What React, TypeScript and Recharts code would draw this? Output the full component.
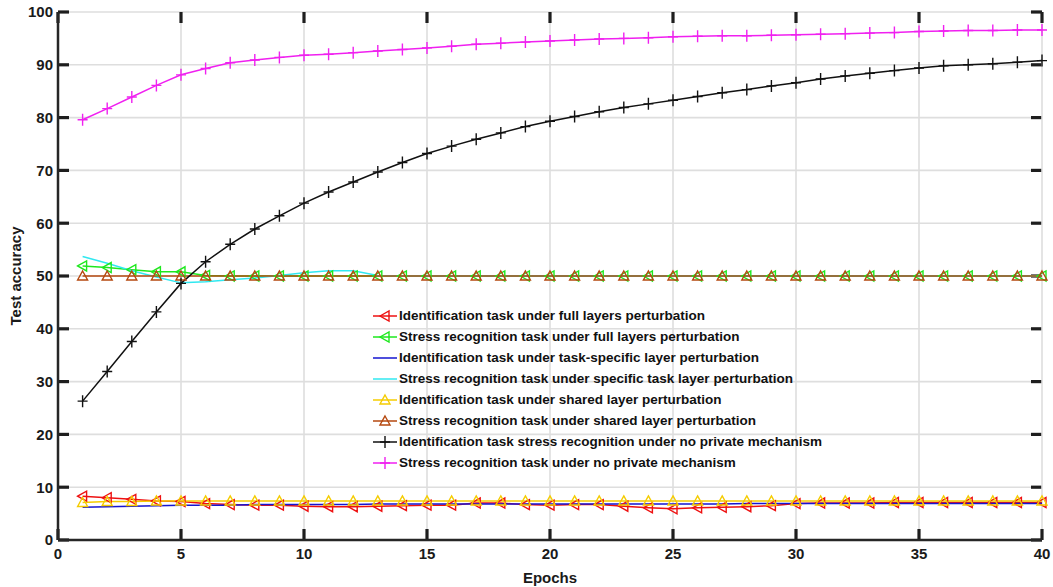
import type { FC, ReactElement } from "react";
import {
  LineChart,
  Line,
  XAxis,
  YAxis,
  CartesianGrid,
  Legend,
} from "recharts";

const epochs = [
  1, 2, 3, 4, 5, 6, 7, 8, 9, 10, 11, 12, 13, 14, 15, 16, 17, 18, 19, 20,
  21, 22, 23, 24, 25, 26, 27, 28, 29, 30, 31, 32, 33, 34, 35, 36, 37, 38, 39, 40,
];

const idFull = [
  8.3, 8.0, 7.7, 7.4, 7.3, 6.9, 6.7, 6.6, 6.6, 6.4, 6.3, 6.3, 6.4, 6.5, 6.6, 6.6, 7.0, 7.0, 6.7, 6.6,
  6.7, 6.7, 6.4, 6.1, 5.9, 6.1, 6.2, 6.3, 6.5, 6.9, 7.0, 7.0, 7.0, 7.1, 7.1, 7.1, 7.1, 7.1, 7.1, 7.1,
];
const stressFull = [
  51.9, 51.6, 51.2, 50.8, 50.8, 50.1, 50.0, 50.0, 50.0, 50.0, 50.0, 50.0, 50.0, 50.0, 50.0, 50.0, 50.0, 50.0, 50.0, 50.0,
  50.0, 50.0, 50.0, 50.0, 50.0, 50.0, 50.0, 50.0, 50.0, 50.0, 50.0, 50.0, 50.0, 50.0, 50.0, 50.0, 50.0, 50.0, 50.0, 50.0,
];
const idSpecific = [
  6.2, 6.3, 6.4, 6.5, 6.6, 6.6, 6.6, 6.7, 6.7, 6.7, 6.7, 6.7, 6.8, 6.8, 6.8, 6.8, 6.8, 6.8, 6.8, 6.8,
  6.8, 6.8, 6.8, 6.8, 6.8, 6.8, 6.8, 6.9, 6.9, 6.9, 6.9, 6.9, 6.9, 6.9, 6.9, 6.9, 6.9, 6.9, 6.9, 6.9,
];
const stressSpecific = [
  53.7, 52.4, 51.0, 49.8, 48.7, 48.9, 49.3, 49.6, 50.1, 50.6, 51.0, 51.0, 50.1, 50.0, 50.0, 50.0, 50.0, 50.0, 50.0, 50.0,
  50.0, 50.0, 50.0, 50.0, 50.0, 50.0, 50.0, 50.0, 50.0, 50.0, 50.0, 50.0, 50.0, 50.0, 50.0, 50.0, 50.0, 50.0, 50.0, 50.0,
];
const idShared = [
  7.1, 7.3, 7.3, 7.4, 7.4, 7.4, 7.4, 7.4, 7.4, 7.4, 7.4, 7.4, 7.4, 7.4, 7.4, 7.4, 7.4, 7.4, 7.4, 7.4,
  7.4, 7.4, 7.4, 7.4, 7.4, 7.4, 7.4, 7.4, 7.4, 7.4, 7.4, 7.4, 7.4, 7.4, 7.4, 7.4, 7.4, 7.4, 7.4, 7.4,
];
const stressShared = [
  50.0, 50.0, 50.0, 50.0, 50.0, 50.0, 50.0, 50.0, 50.0, 50.0, 50.0, 50.0, 50.0, 50.0, 50.0, 50.0, 50.0, 50.0, 50.0, 50.0,
  50.0, 50.0, 50.0, 50.0, 50.0, 50.0, 50.0, 50.0, 50.0, 50.0, 50.0, 50.0, 50.0, 50.0, 50.0, 50.0, 50.0, 50.0, 50.0, 50.0,
];
const idNoPrivate = [
  26.3, 31.9, 37.6, 43.2, 48.6, 52.7, 56.0, 58.9, 61.4, 63.8, 65.9, 67.8, 69.7, 71.5, 73.2, 74.6, 75.9, 77.1, 78.3, 79.3,
  80.2, 81.1, 81.9, 82.6, 83.3, 84.0, 84.7, 85.3, 86.0, 86.6, 87.3, 87.9, 88.4, 88.9, 89.4, 89.8, 90.0, 90.2, 90.5, 90.8,
];
const stressNoPrivate = [
  79.6, 81.7, 83.9, 86.1, 88.1, 89.3, 90.4, 90.9, 91.4, 91.8, 92.0, 92.3, 92.6, 92.9, 93.2, 93.5, 93.9, 94.1, 94.3, 94.5,
  94.7, 94.9, 95.0, 95.1, 95.3, 95.4, 95.5, 95.5, 95.6, 95.7, 95.8, 95.9, 96.0, 96.1, 96.3, 96.4, 96.5, 96.5, 96.6, 96.6,
];

const xTicks = [0, 5, 10, 15, 20, 25, 30, 35, 40];
const yTicks = [0, 10, 20, 30, 40, 50, 60, 70, 80, 90, 100];

type Marker = "left" | "up" | "plus" | "none";

const series: { key: string; name: string; color: string; marker: Marker; values: number[] }[] = [
  { key: "idFull", name: "Identification task under full layers perturbation", color: "#ee1111", marker: "left", values: idFull },
  { key: "stressFull", name: "Stress recognition task under full layers perturbation", color: "#1ee81e", marker: "left", values: stressFull },
  { key: "idSpecific", name: "Identification task under task-specific layer perturbation", color: "#1515d0", marker: "none", values: idSpecific },
  { key: "stressSpecific", name: "Stress recognition task under specific task layer perturbation", color: "#30e8f0", marker: "none", values: stressSpecific },
  { key: "idShared", name: "Identification task under shared layer perturbation", color: "#f5cc00", marker: "up", values: idShared },
  { key: "stressShared", name: "Stress recognition task under shared layer perturbation", color: "#b5480f", marker: "up", values: stressShared },
  { key: "idNoPrivate", name: "Identification task stress recognition under no private mechanism", color: "#111111", marker: "plus", values: idNoPrivate },
  { key: "stressNoPrivate", name: "Stress recognition task under no private mechanism", color: "#f020f0", marker: "plus", values: stressNoPrivate },
];

const rows = epochs.map((epoch, i) => {
  const row: Record<string, number> = { epoch };
  series.forEach((s) => {
    row[s.key] = s.values[i];
  });
  return row;
});

const font = "'Liberation Sans', Arial, Helvetica, sans-serif";
const axisColor = "#262626";
const tickColor = "#1e1e1e";
const TICK_IN = 11;

// marker shapes (MATLAB style)
const drawMarker = (kind: Marker, cx: number, cy: number, color: string, key?: string): ReactElement => {
  if (kind === "left") {
    return (
      <polygon key={key} points={`${cx - 5},${cy} ${cx + 4},${cy - 5} ${cx + 4},${cy + 5}`}
        fill="none" stroke={color} strokeWidth={1.4} />
    );
  }
  if (kind === "up") {
    return (
      <polygon key={key} points={`${cx},${cy - 5} ${cx + 5},${cy + 4} ${cx - 5},${cy + 4}`}
        fill="none" stroke={color} strokeWidth={1.4} />
    );
  }
  if (kind === "plus") {
    return (
      <path key={key} d={`M${cx - 5},${cy}H${cx + 5}M${cx},${cy - 6}V${cy + 6}`}
        stroke={color} strokeWidth={1.4} fill="none" />
    );
  }
  return <g key={key} />;
};

const LegendBox: FC = () => (
  <div style={{ fontFamily: font, fontWeight: "bold", fontSize: 13.5, color: "#111" }}>
    {series.map((s) => (
      <div key={s.key} style={{ display: "flex", alignItems: "center", height: 21 }}>
        <svg width={24} height={14} style={{ overflow: "visible" }}>
          <line x1={0} y1={7} x2={24} y2={7} stroke={s.color} strokeWidth={1.5} />
          {drawMarker(s.marker, 12, 7, s.color)}
        </svg>
        <span style={{ marginLeft: 2, whiteSpace: "nowrap" }}>{s.name}</span>
      </div>
    ))}
  </div>
);

const labelStyle = { fontFamily: font, fontWeight: "bold", fontSize: 15, fill: "#1a1a1a" };

// grid lines carry the inward tick marks at both ends (MATLAB box style)
const HGrid = (p: any) => (
  <g key={p.key}>
    <line x1={p.x1} y1={p.y1} x2={p.x2} y2={p.y2} stroke="#dedede" strokeWidth={1.6} />
    <line x1={p.x1} y1={p.y1} x2={p.x1 + TICK_IN} y2={p.y1} stroke={tickColor} strokeWidth={3.2} />
    <line x1={p.x2} y1={p.y2} x2={p.x2 - TICK_IN} y2={p.y2} stroke={tickColor} strokeWidth={3.2} />
  </g>
);
const VGrid = (p: any) => {
  const top = Math.min(p.y1, p.y2);
  const bottom = Math.max(p.y1, p.y2);
  return (
    <g key={p.key}>
      <line x1={p.x1} y1={p.y1} x2={p.x2} y2={p.y2} stroke="#dedede" strokeWidth={1.6} />
      <line x1={p.x1} y1={top} x2={p.x1} y2={top + TICK_IN} stroke={tickColor} strokeWidth={3.2} />
      <line x1={p.x1} y1={bottom} x2={p.x1} y2={bottom - TICK_IN} stroke={tickColor} strokeWidth={3.2} />
    </g>
  );
};

export default function App() {
  return (
    <div style={{ position: "absolute", left: 0, top: 0, background: "#fff" }}>
      <LineChart width={1053} height={587} data={rows} margin={{ top: 12, right: 11, left: 0, bottom: 0 }}>

        {/* GRID + INNER TICKS */}
        <CartesianGrid horizontal={HGrid} vertical={VGrid} />

        {/* AXES */}
        <XAxis dataKey="epoch" type="number" domain={[0, 40]} ticks={xTicks}
          height={47} tickLine={false} tickSize={6} tickMargin={2}
          axisLine={{ stroke: axisColor, strokeWidth: 2.5 }} tick={labelStyle}
          label={{ value: "Epochs", position: "insideBottom", offset: 4, style: labelStyle }} />
        <XAxis xAxisId="top" orientation="top" type="number" domain={[0, 40]} height={0}
          tick={false} tickLine={false} axisLine={{ stroke: axisColor, strokeWidth: 2.5 }} />
        <YAxis type="number" domain={[0, 100]} ticks={yTicks} width={58}
          tickLine={false} tickSize={3} tickMargin={2}
          axisLine={{ stroke: axisColor, strokeWidth: 2.5 }} tick={labelStyle}
          label={{ value: "Test accuracy", angle: -90, position: "insideLeft", offset: 16, style: { ...labelStyle, textAnchor: "middle" } }} />
        <YAxis yAxisId="right" orientation="right" type="number" domain={[0, 100]} width={0}
          tick={false} tickLine={false} axisLine={{ stroke: axisColor, strokeWidth: 2.5 }} />

        {/* LEGEND */}
        <Legend layout="vertical" align="center" verticalAlign="middle" content={<LegendBox />}
          wrapperStyle={{ left: 373, top: 305, width: 460 }} />

        {/* LINES */}
        {series.map((s) => (
          <Line key={s.key} type="linear" dataKey={s.key} name={s.name}
            stroke={s.color} strokeWidth={1.5} isAnimationActive={false}
            dot={s.marker === "none" ? false : (p: any) => drawMarker(s.marker, p.cx, p.cy, s.color, `${s.key}-${p.index}`)}
            activeDot={false} />
        ))}

      </LineChart>
    </div>
  );
}
